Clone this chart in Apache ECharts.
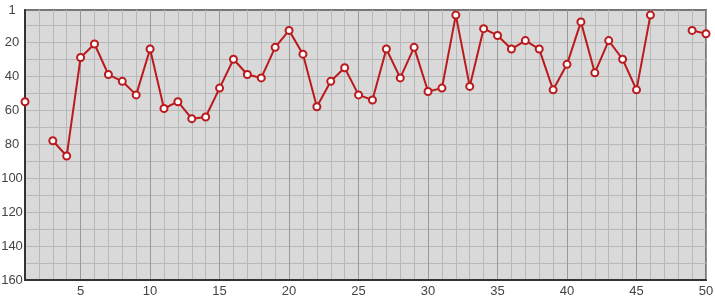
<!DOCTYPE html>
<html>
<head>
<meta charset="utf-8">
<script src="https://cdn.jsdelivr.net/npm/echarts@6/dist/echarts.min.js"></script>
<style>html,body{margin:0;padding:0;background:#fff}#c{width:715px;height:300px}</style>
</head>
<body>
<div id="c"></div>
<script>
var xValues = [1,2,3,4,5,6,7,8,9,10,11,12,13,14,15,16,17,18,19,20,21,22,23,24,25,26,27,28,29,30,31,32,33,34,35,36,37,38,39,40,41,42,43,44,45,46,47,48,49,50];
var rankValues = [55,null,78,87,29,21,39,43,51,24,59,55,65,64,47,30,39,41,23,13,27,58,43,35,51,54,24,41,23,49,47,4,46,12,16,24,19,24,48,33,8,38,19,30,48,4,null,null,13,15];
var yTickLabels = [1,20,40,60,80,100,120,140,160];
var yGridValues = [10,20,30,40,50,60,70,80,90,100,110,120,130,140,150,160];
var xTickLabels = [5,10,15,20,25,30,35,40,45,50];

var chart = echarts.init(document.getElementById('c'), null, {renderer:'canvas'});
var data = xValues.map(function(x,i){ return [x, rankValues[i]]; });
var labelStyle = {color:'#444', fontFamily:'Liberation Sans, Arial, sans-serif', fontSize:13};
chart.setOption({
  animation:false,
  grid:{left:25, right:9, top:10, bottom:20, outerBoundsMode:'none', containLabel:false, show:true, backgroundColor:'#d9d9d9', borderColor:'#777', borderWidth:2},
  xAxis:[{
    type:'value', min:1, max:50, interval:1,
    axisLine:{show:true, onZero:false, lineStyle:{color:'#333', width:2}},
    axisTick:{show:false},
    axisLabel:Object.assign({customValues:xTickLabels, margin:5}, labelStyle),
    splitLine:{show:true, lineStyle:{color:'#b8b8b8', width:1}}
  },{
    type:'value', min:1, max:50, position:'bottom',
    axisLine:{show:false},
    axisTick:{show:false, customValues:xTickLabels},
    axisLabel:{show:false, customValues:xTickLabels},
    splitLine:{show:true, lineStyle:{color:'#999', width:1}}
  }],
  yAxis:{
    type:'value', inverse:true, min:1, max:160,
    axisLine:{show:true, onZero:false, lineStyle:{color:'#333', width:2}},
    axisTick:{show:false, customValues:yGridValues},
    axisLabel:Object.assign({customValues:yTickLabels, margin:13, align:'center'}, labelStyle),
    splitLine:{show:true, lineStyle:{color:'#b8b8b8', width:1}}
  },
  series:[{
    type:'line', xAxisIndex:0, data:data, connectNulls:false,
    symbol:'circle', symbolSize:7, showSymbol:true,
    itemStyle:{color:'#fff', borderColor:'#bb1a1d', borderWidth:2},
    lineStyle:{color:'#bb1a1d', width:2},
    z:5
  }]
});
</script>
</body>
</html>
